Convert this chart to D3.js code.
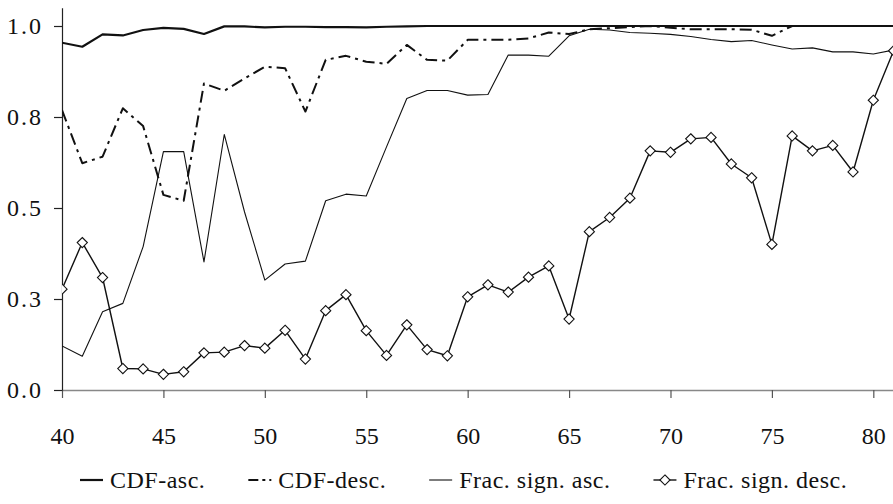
<!DOCTYPE html>
<html>
<head>
<meta charset="utf-8">
<script src="https://cdn.jsdelivr.net/npm/d3@7"></script>
<style>
  body{margin:0;background:#fff;}
  svg{display:block;}
</style>
</head>
<body>
<script>
var ages=[40,41,42,43,44,45,46,47,48,49,50,51,52,53,54,55,56,57,58,59,60,61,62,63,64,65,66,67,68,69,70,71,72,73,74,75,76,77,78,79,80,81];
var cdfAsc=[0.954,0.943,0.977,0.974,0.989,0.995,0.992,0.978,0.999,0.999,0.996,0.998,0.998,0.997,0.997,0.996,0.998,0.999,1,1,1,1,1,1,1,1,1,1,1,1,1,1,1,1,1,1,1,1,1,1,1,1];
var cdfDesc=[0.769,0.623,0.641,0.774,0.725,0.536,0.520,0.842,0.822,0.856,0.888,0.884,0.765,0.907,0.918,0.902,0.896,0.948,0.907,0.905,0.962,0.962,0.962,0.966,0.982,0.978,0.991,0.994,0.997,1,0.995,0.991,0.991,0.991,0.990,0.973,1,1,1,1,1,1];
var fracAsc=[0.121,0.093,0.215,0.238,0.394,0.655,0.655,0.352,0.702,0.489,0.302,0.346,0.354,0.520,0.538,0.533,0.668,0.801,0.823,0.823,0.810,0.812,0.920,0.920,0.917,0.973,0.991,0.989,0.982,0.980,0.977,0.971,0.963,0.957,0.960,0.948,0.937,0.940,0.929,0.929,0.923,0.934];
var fracDesc=[0.277,0.405,0.309,0.059,0.058,0.043,0.050,0.102,0.104,0.122,0.115,0.164,0.085,0.218,0.262,0.163,0.095,0.179,0.111,0.094,0.256,0.289,0.269,0.310,0.341,0.195,0.435,0.474,0.527,0.657,0.653,0.690,0.694,0.621,0.583,0.400,0.698,0.657,0.672,0.599,0.796,0.932];
var xTicks=[40,45,50,55,60,65,70,75,80];
var yTicks=[0,0.25,0.5,0.75,1];
var yTickLabels=["0.0","0.3","0.5","0.8","1.0"];
var seriesNames=["CDF-asc.","CDF-desc.","Frac. sign. asc.","Frac. sign. desc."];

var FONT="'Liberation Serif', 'Times New Roman', serif";
var width=893,height=504;
var margin={top:7.8,right:-0.6,bottom:114,left:62};

var svg=d3.select("body").append("svg").attr("width",width).attr("height",height);

var x=d3.scaleLinear().domain([40,81]).range([margin.left,width-margin.right]);
var y=d3.scaleLinear().domain([0,1.05]).range([height-margin.bottom,margin.top]);

// axes
var gx=svg.append("g").attr("transform","translate(0,"+y(0)+")")
  .call(d3.axisBottom(x).tickValues(xTicks).tickSize(8).tickPadding(29).tickSizeOuter(0));
gx.attr("font-family",FONT).attr("font-size",24);
gx.select(".domain").attr("stroke","#888").attr("stroke-width",1.6);
gx.selectAll(".tick line").attr("stroke","#555").attr("stroke-width",1.2);
gx.selectAll("text").style("font-family",FONT).style("font-size","24px").attr("fill","#111");

var gy=svg.append("g").attr("transform","translate("+margin.left+",0)")
  .call(d3.axisLeft(y).tickValues(yTicks).tickFormat(function(d,i){return yTickLabels[i];}).tickSize(8).tickPadding(11).tickSizeOuter(0));
gy.attr("font-family",FONT).attr("font-size",24);
gy.select(".domain").attr("stroke","#222").attr("stroke-width",1.2);
gy.selectAll(".tick line").attr("stroke","#222").attr("stroke-width",1.2);
gy.selectAll("text").style("font-family",FONT).style("font-size","24px").attr("fill","#111").attr("letter-spacing",2);

var line=d3.line().x(function(d,i){return x(ages[i]);}).y(function(d){return y(d);});

var styles=[
  {data:cdfAsc,w:2.2,dash:null},
  {data:cdfDesc,w:2,dash:"12,5,3,5"},
  {data:fracAsc,w:1.1,dash:null},
  {data:fracDesc,w:1.4,dash:null}
];

svg.append("clipPath").attr("id","clip").append("rect")
  .attr("x",margin.left).attr("y",0).attr("width",width-margin.left).attr("height",y(0)+6);

var plot=svg.append("g").attr("clip-path","url(#clip)");
styles.forEach(function(s){
  plot.append("path").datum(s.data)
    .attr("fill","none").attr("stroke","#111")
    .attr("stroke-width",s.w)
    .attr("stroke-dasharray",s.dash)
    .attr("stroke-linejoin","round")
    .attr("d",line);
});

// diamond markers for frac. sign. desc.
var diamond=d3.symbol().type(d3.symbolDiamond2).size(66);
plot.selectAll(".mk").data(fracDesc).enter().append("path")
  .attr("class","mk")
  .attr("transform",function(d,i){return "translate("+x(ages[i])+","+y(d)+")";})
  .attr("d",diamond)
  .attr("fill","#fff").attr("stroke","#111").attr("stroke-width",1.1);

// legend
var leg=svg.append("g").attr("transform","translate(0,488)");
var lx=80;
seriesNames.forEach(function(name,i){
  var s=styles[i];
  var g=leg.append("g").attr("transform","translate("+lx+",0)");
  g.append("line").attr("x1",0).attr("x2",23).attr("y1",-8).attr("y2",-8)
    .attr("stroke","#111").attr("stroke-width",s.w)
    .attr("stroke-dasharray",i==1?"10,4,3,4":null);
  if(i==3){
    g.append("path").attr("transform","translate(11.5,-8)").attr("d",diamond)
      .attr("fill","#fff").attr("stroke","#111").attr("stroke-width",1.1);
  }
  var t=g.append("text").attr("x",30).attr("y",0).style("font-family",FONT).style("font-size","24px")
    .attr("letter-spacing",0.5).attr("fill","#111").text(name);
  lx+=30+t.node().getComputedTextLength()+43;
});
</script>
</body>
</html>
